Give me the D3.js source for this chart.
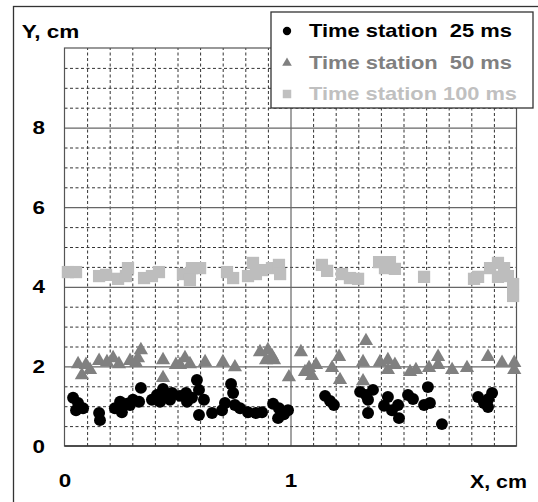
<!DOCTYPE html>
<html><head><meta charset="utf-8">
<script src="https://cdn.jsdelivr.net/npm/d3@7"></script>
<style>
html,body{margin:0;padding:0;background:#fff;}
svg{display:block;font-family:"Liberation Sans",Arial,sans-serif;font-weight:bold;}
</style></head><body>
<svg id="chart" width="538" height="502"></svg>
<script>
const xTicks = [0, 1];
const yTicks = [0, 2, 4, 6, 8];
const seriesNames = ["Time station  25 ms", "Time station  50 ms", "Time station 100 ms"];

const station25 = [[0.038,1.21],[0.060,1.08],[0.082,0.95],[0.051,0.90],[0.153,0.83],[0.157,0.65],[0.223,0.95],[0.246,1.11],[0.277,1.06],[0.303,1.16],[0.330,1.11],[0.254,0.85],[0.290,1.03],[0.338,1.46],[0.387,1.16],[0.409,1.28],[0.436,1.43],[0.449,1.28],[0.476,1.33],[0.467,1.16],[0.423,1.11],[0.511,1.26],[0.538,1.33],[0.564,1.21],[0.595,1.41],[0.586,1.66],[0.617,1.16],[0.542,1.11],[0.595,0.78],[0.653,0.83],[0.737,1.56],[0.746,1.33],[0.710,1.08],[0.754,1.03],[0.697,0.90],[0.777,0.95],[0.812,0.85],[0.847,0.83],[0.874,0.85],[0.923,1.06],[0.949,0.95],[0.971,0.80],[0.989,0.90],[0.945,0.70],[1.153,1.26],[1.175,1.13],[1.192,1.03],[1.308,1.36],[1.334,1.28],[1.365,1.41],[1.343,1.16],[1.343,0.83],[1.431,1.23],[1.414,1.01],[1.449,0.90],[1.476,1.03],[1.480,0.70],[1.520,1.28],[1.542,1.18],[1.608,1.48],[1.591,1.03],[1.617,1.08],[1.670,0.55],[1.830,1.23],[1.856,1.08],[1.874,0.98],[1.892,1.33],[1.876,1.18]];

const station50 = [[0.060,2.06],[0.095,2.04],[0.077,1.78],[0.113,1.91],[0.153,2.14],[0.188,2.11],[0.215,2.21],[0.241,2.06],[0.290,2.14],[0.325,2.21],[0.338,2.41],[0.316,2.09],[0.436,2.16],[0.436,1.71],[0.493,2.04],[0.511,2.04],[0.533,2.21],[0.555,2.06],[0.622,2.11],[0.701,2.11],[0.754,1.98],[0.865,2.36],[0.900,2.41],[0.918,2.26],[0.892,2.16],[0.927,2.16],[0.993,1.73],[1.046,2.36],[1.064,1.86],[1.095,1.76],[1.113,2.04],[1.082,1.96],[1.184,1.96],[1.215,2.24],[1.219,1.66],[1.334,2.64],[1.321,2.11],[1.321,1.63],[1.396,2.11],[1.431,2.16],[1.462,2.04],[1.431,1.91],[1.529,1.86],[1.555,1.91],[1.613,1.96],[1.653,2.24],[1.653,2.04],[1.715,1.91],[1.781,1.96],[1.874,2.24],[1.936,2.09],[1.990,2.09],[1.990,1.91]];

const station100 = [[0.015,4.37],[0.051,4.37],[0.153,4.27],[0.184,4.30],[0.237,4.20],[0.272,4.27],[0.281,4.47],[0.352,4.22],[0.387,4.27],[0.418,4.37],[0.524,4.32],[0.564,4.47],[0.600,4.47],[0.555,4.17],[0.719,4.37],[0.746,4.22],[0.812,4.27],[0.847,4.32],[0.834,4.60],[0.874,4.42],[0.918,4.47],[0.949,4.55],[0.954,4.32],[1.139,4.55],[1.162,4.40],[1.228,4.32],[1.263,4.22],[1.299,4.20],[1.392,4.62],[1.440,4.62],[1.462,4.45],[1.418,4.47],[1.591,4.25],[1.812,4.20],[1.830,4.25],[1.883,4.47],[1.918,4.60],[1.945,4.47],[1.918,4.25],[1.962,4.27],[1.985,4.07],[1.985,3.77]];

const svg = d3.select("#chart");
const x = d3.scaleLinear().domain([0, 2]).range([64.5, 516.5]);
const y = d3.scaleLinear().domain([0, 10]).range([446, 48]);
const W = x(2) - x(0), H = y(0) - y(10);

// outer frame
svg.append("rect").attr("x", 13.5).attr("y", 6.5).attr("width", 600).attr("height", 600)
  .attr("fill", "none").attr("stroke", "#333").attr("stroke-width", 1.3);

const g = svg.append("g");

// minor dashed grid
const xMinor = d3.range(1, 20).map(i => i / 10).filter(v => Math.abs(v - 1) > 1e-9);
const yMinor = d3.range(1, 20).map(i => i / 2).filter(v => v % 2 !== 0);
g.append("g").attr("transform", `translate(0,${y(0)})`)
  .call(d3.axisBottom(x).tickValues(xMinor).tickSize(-H).tickFormat(""))
  .call(s => s.select(".domain").remove())
  .selectAll("line").attr("stroke", "#333").attr("stroke-dasharray", "3,2.5");
g.append("g").attr("transform", `translate(${x(0)},0)`)
  .call(d3.axisLeft(y).tickValues(yMinor).tickSize(-W).tickFormat(""))
  .call(s => s.select(".domain").remove())
  .selectAll("line").attr("stroke", "#333").attr("stroke-dasharray", "3,2.5");

// major solid grid
g.append("g").attr("transform", `translate(0,${y(0)})`)
  .call(d3.axisBottom(x).tickValues([1]).tickSize(-H).tickFormat(""))
  .call(s => s.select(".domain").remove())
  .selectAll("line").attr("stroke", "#666").attr("stroke-width", 1.2);
g.append("g").attr("transform", `translate(${x(0)},0)`)
  .call(d3.axisLeft(y).tickValues([2, 4, 6, 8]).tickSize(-W).tickFormat(""))
  .call(s => s.select(".domain").remove())
  .selectAll("line").attr("stroke", "#666").attr("stroke-width", 1.2);

// plot frame
g.append("rect").attr("x", x(0)).attr("y", y(10)).attr("width", W).attr("height", H)
  .attr("fill", "none").attr("stroke", "#555").attr("stroke-width", 1.2);
g.append("line").attr("x1", x(0)).attr("x2", x(2)).attr("y1", y(0)).attr("y2", y(0))
  .attr("stroke", "#333").attr("stroke-width", 1.6);

// tick labels
const yAx = svg.append("g").attr("transform", `translate(${x(0)},0)`)
  .call(d3.axisLeft(y).tickValues(yTicks).tickSize(0).tickPadding(19.5).tickFormat(d3.format("d")));
yAx.select(".domain").remove();
const xAx = svg.append("g").attr("transform", `translate(0,${y(0)})`)
  .call(d3.axisBottom(x).tickValues(xTicks).tickSize(0).tickPadding(27.5).tickFormat(d3.format("d")));
xAx.select(".domain").remove();
svg.selectAll(".tick text").attr("font-size", 19).attr("font-family", "Liberation Sans, Arial, sans-serif")
  .attr("font-weight", "bold").attr("fill", "#000").classed("stretch", true);

// axis titles
svg.append("text").attr("x", 21.7).attr("y", 37.7).attr("font-size", 18.5).attr("fill", "#000")
  .attr("textLength", 57.6).attr("lengthAdjust", "spacingAndGlyphs").text("Y, cm");
svg.append("text").attr("x", 470).attr("y", 488).attr("font-size", 19).attr("fill", "#000")
  .attr("textLength", 57).attr("lengthAdjust", "spacingAndGlyphs").text("X, cm");

// markers
const series = [
  {data: station100, type: d3.symbolSquare, size: 150, color: "#bdbdbd"},
  {data: station50, type: d3.symbolTriangle, size: 88, color: "#808080"},
  {data: station25, type: d3.symbolCircle, size: 112, color: "#000"}
];
series.forEach(s => {
  svg.append("g").selectAll("path").data(s.data).join("path")
    .attr("transform", d => `translate(${x(d[0])},${y(d[1])})`)
    .attr("d", d3.symbol().type(s.type).size(s.size))
    .attr("fill", s.color);
});

// legend
const leg = svg.append("g");
leg.append("rect").attr("x", 271).attr("y", 12).attr("width", 262).attr("height", 96)
  .attr("fill", "#fff").attr("stroke", "#333").attr("stroke-width", 1.3);
const legItems = [
  {name: seriesNames[0], type: d3.symbolCircle, size: 55, color: "#000", tc: "#000", my: 31, ty: 37, w: 203},
  {name: seriesNames[1], type: d3.symbolTriangle, size: 40, color: "#808080", tc: "#808080", my: 63, ty: 69, w: 203},
  {name: seriesNames[2], type: d3.symbolSquare, size: 72, color: "#c0c0c0", tc: "#c0c0c0", my: 94, ty: 100, w: 208}
];
legItems.forEach(it => {
  leg.append("path").attr("transform", `translate(287,${it.my})`)
    .attr("d", d3.symbol().type(it.type).size(it.size)).attr("fill", it.color);
  leg.append("text").attr("x", 309).attr("y", it.ty).attr("font-size", 18.5)
    .attr("fill", it.tc).style("white-space", "pre")
    .attr("textLength", it.w).attr("lengthAdjust", "spacingAndGlyphs").text(it.name);
});

// horizontal stretch of tick labels to match the reference
svg.selectAll("text.stretch").each(function() {
  const w = this.getComputedTextLength();
  d3.select(this).attr("textLength", w * 1.18).attr("lengthAdjust", "spacingAndGlyphs");
});
</script>
</body></html>
